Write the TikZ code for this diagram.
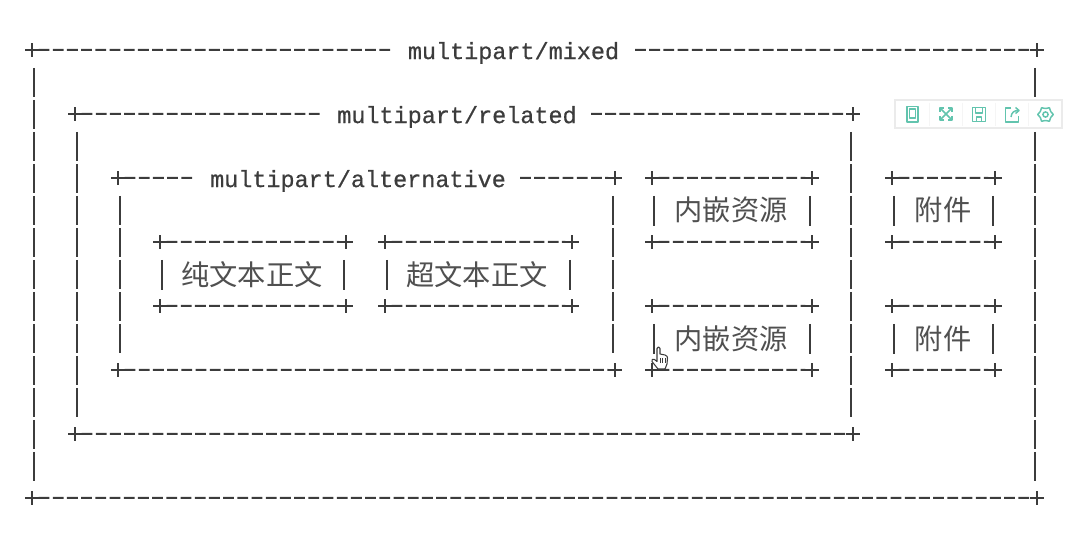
\documentclass[tikz,border=0pt]{standalone}
\usepackage{fontspec}
\setmonofont[FakeBold=0.6]{Liberation Mono}
\newfontfamily\cjk{Noto Sans CJK SC}
\usetikzlibrary{shapes.misc}
\definecolor{ink}{HTML}{3C3C3C}
\definecolor{cjkink}{HTML}{505050}
\definecolor{teal}{HTML}{62C4AE}
\tikzset{
  pluscorner/.style={cross out,draw=ink,rotate=45,inner sep=0pt,outer sep=0pt,minimum size=7pt,line width=1.5pt},
  hline/.style={draw=ink,line width=1.5pt,dash pattern=on 8.1pt off 2.55pt},
  vline/.style={draw=ink,line width=1.5pt,dash pattern=on 21.75pt off 2.25pt},
  bar/.style={draw=ink,line width=1.5pt},
  mono/.style={font=\ttfamily\fontsize{17.6pt}{20pt}\selectfont,text=ink,inner sep=0pt},
  zh/.style={font=\cjk\fontsize{21.2pt}{24pt}\selectfont,text=cjkink,inner sep=0pt},
  tool/.style={draw=teal,line width=1.1pt,line join=round}
}
% #1 name, #2 x0, #3 y0, #4 x1, #5 y1
\newcommand{\corners}[5]{%
  \node[pluscorner] (#1nw) at (#2,#3) {};
  \node[pluscorner] (#1ne) at (#4,#3) {};
  \node[pluscorner] (#1sw) at (#2,#5) {};
  \node[pluscorner] (#1se) at (#4,#5) {};
  \path[hline] (#1sw) -- (#1se);
  \path[vline] ([xshift=1.8pt,yshift=-13.5pt]#1nw.center) -- ([xshift=1.8pt,yshift=12pt]#1sw.center);
  \path[vline] ([xshift=-1.8pt,yshift=-13.5pt]#1ne.center) -- ([xshift=-1.8pt,yshift=12pt]#1se.center);
}
\begin{document}
\begin{tikzpicture}[x=0.75pt,y=-0.75pt]
\useasboundingbox (0,0) rectangle (1065,541);
% outer
\corners{o}{32}{50}{1037}{498}
\node[mono] (ot) at (513.5,53) {multipart/mixed};
\path[hline] (onw) -- (392,50);
\path[hline] (635,50) -- (one);
% related
\corners{r}{75}{114}{853}{434}
\node[mono] (rt) at (457,117) {multipart/related};
\path[hline] (rnw) -- (320,114);
\path[hline] (591,114) -- (rne);
% alternative
\corners{a}{118}{178}{615}{370}
\node[mono] (at) at (358,181) {multipart/alternative};
\path[hline] (anw) -- (195,178);
\path[hline] (520,178) -- (ane);
% inner boxes
\foreach \n/\xa/\ya/\xb/\yb in {p/160/242/346/306, h/385/242/572/306, ia/652/178/812/242, ib/652/306/812/370, fa/892/178/995/242, fb/892/306/995/370}{
  \node[pluscorner] (\n nw) at (\xa,\ya) {};
  \node[pluscorner] (\n ne) at (\xb,\ya) {};
  \node[pluscorner] (\n sw) at (\xa,\yb) {};
  \node[pluscorner] (\n se) at (\xb,\yb) {};
  \path[hline] (\n nw) -- (\n ne);
  \path[hline] (\n sw) -- (\n se);
  \path[bar] ([xshift=1.5pt,yshift=-13.5pt]\n nw.center) -- ([xshift=1.5pt,yshift=12pt]\n sw.center);
  \path[bar] ([xshift=-1.5pt,yshift=-13.5pt]\n ne.center) -- ([xshift=-1.5pt,yshift=12pt]\n se.center);
}
\node[zh] (pt) at (252,275) {纯文本正文};
\node[zh] (ht) at (477,275) {超文本正文};
\node[zh] (iat) at (731,210) {内嵌资源};
\node[zh] (ibt) at (731,339) {内嵌资源};
\node[zh] (fat) at (943,210) {附件};
\node[zh] (fbt) at (943,339) {附件};
% toolbar
\draw[draw=black!8,fill=white,line width=0.8pt] (895,100) rectangle (1062,128);
\foreach \x in {929,962,995,1028}{\draw[black!4,line width=0.6pt] (\x,103) -- (\x,126);}
% tablet
\draw[tool] (907,106.5) rectangle (918,122);
\draw[tool] (909.5,109) rectangle (915.5,118);
% expand
\draw[tool] (941,109) -- (951,119) (951,109) -- (941,119);
\draw[tool] (940,112) -- (940,108) -- (944,108) (948,108) -- (952,108) -- (952,112)
  (952,116) -- (952,120) -- (948,120) (944,120) -- (940,120) -- (940,116);
% floppy
\draw[tool] (972.5,107.5) rectangle (985.5,121.5);
\draw[tool] (975.5,107.5) rectangle (982.5,113);
\draw[tool] (976.5,117) rectangle (981.5,121.5);
% share
\draw[tool] (1011,108) -- (1005.5,108) -- (1005.5,122) -- (1018.5,122) -- (1018.5,116);
\draw[tool] (1011,117) .. controls (1011.5,112.5) and (1014,110.5) .. (1018.5,110.5);
\draw[tool] (1015.5,107.5) -- (1019,110.5) -- (1015.5,113.5);
% gear
\draw[tool] (1045.5,114.5) circle (2.6);
\draw[tool] (1045.5,114.5) +(0:7.8) -- +(30:6) -- +(60:7.8) -- +(90:6) -- +(120:7.8) -- +(150:6) -- +(180:7.8) -- +(210:6) -- +(240:7.8) -- +(270:6) -- +(300:7.8) -- +(330:6) -- cycle;
% hand cursor
\draw[fill=white,draw=ink,line width=0.8pt,line join=round]
  (657,357) -- (657,348.5) .. controls (657,346.5) and (660,346.5) .. (660,348.5)
  -- (660,354) -- (662.5,354.5) -- (665,355) .. controls (667,355.5) and (667.5,357) .. (667.5,358)
  -- (667,364) -- (665,369) -- (658,369) -- (652,361.5) .. controls (651,359.5) and (653,358.5) .. (654.5,359.5)
  -- (657,361.5) -- cycle;
\draw[ink,line width=0.5pt] (660,358) -- (660,363) (662.5,358) -- (662.5,363) (665,358) -- (665,363);
\end{tikzpicture}
\end{document}
